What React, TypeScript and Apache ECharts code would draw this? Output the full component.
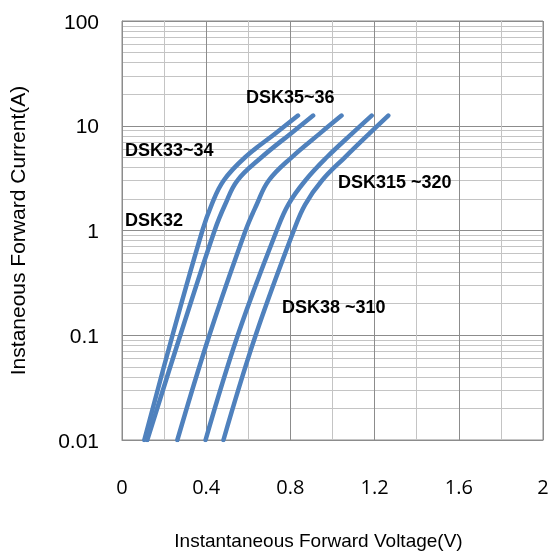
import React, { useEffect, useRef } from "react";
import * as echarts from "echarts";

const xTickLabels = ["0", "0.4", "0.8", "1.2", "1.6", "2"];
const yTickLabels = ["0.01", "0.1", "1", "10", "100"];

const currentA = [0.01, 0.1, 1, 1.77, 3, 5, 8.5, 12.5];
const curve1X = [0.106, 0.24, 0.382, 0.426, 0.483, 0.585, 0.73, 0.836];
const curve2X = [0.12, 0.277, 0.44, 0.49, 0.548, 0.663, 0.804, 0.908];
const curve3X = [0.263, 0.415, 0.587, 0.64, 0.697, 0.806, 0.942, 1.043];
const curve4X = [0.397, 0.55, 0.735, 0.79, 0.871, 0.973, 1.095, 1.186];
const curve5X = [0.482, 0.635, 0.816, 0.87, 0.95, 1.059, 1.177, 1.265];

const curveLabels = ["DSK35~36", "DSK33~34", "DSK315 ~320", "DSK32", "DSK38 ~310"];

const LINE_COLOR = "#4F81BD";
const MAJOR = "#8c8c8c";
const MINOR = "#c4c4c4";

export default function App() {
  const ref = useRef<HTMLDivElement>(null);
  useEffect(() => {
    if (!ref.current) return;
    const chart = echarts.init(ref.current, null, { renderer: "svg" });
    const curves = [curve1X, curve2X, curve3X, curve4X, curve5X];
    const labelPos = [
      [246, 98],
      [125, 151],
      [338, 183],
      [125, 221],
      [282, 308],
    ];
    chart.setOption({
      animation: false,
      grid: {
        left: 122,
        right: 6,
        top: 21,
        bottom: 112,
        show: true,
        borderColor: MAJOR,
        borderWidth: 1,
        containLabel: false,
        outerBoundsMode: "none",
      },
      xAxis: {
        type: "value",
        min: 0,
        max: 2,
        interval: 0.4,
        name: "Instantaneous Forward Voltage(V)",
        nameLocation: "middle",
        nameGap: 91,
        nameTextStyle: {
          fontFamily: "'Liberation Sans', Arial, sans-serif",
          fontSize: 19,
          color: "#000",
          padding: [0, 28, 0, 0],
        },
        axisLine: { show: true, lineStyle: { color: MAJOR } },
        axisTick: { show: false },
        axisLabel: {
          margin: 36,
          fontSize: 20,
          color: "#000",
          fontFamily: "'Open Sans', sans-serif",
          formatter: (v: number) => xTickLabels[Math.round(v / 0.4)] ?? "",
        },
        splitLine: { show: true, lineStyle: { color: MAJOR, width: 1 } },
        minorTick: { show: false, splitNumber: 2 },
        minorSplitLine: { show: true, lineStyle: { color: MINOR, width: 1 } },
      },
      yAxis: {
        type: "log",
        logBase: 10,
        min: 0.01,
        max: 100,
        name: "Instaneous Forward Current(A)",
        nameLocation: "middle",
        nameGap: 94,
        nameTextStyle: {
          fontFamily: "'Liberation Sans', Arial, sans-serif",
          fontSize: 21,
          color: "#000",
        },
        axisLine: { show: true, lineStyle: { color: MAJOR } },
        axisTick: { show: false },
        axisLabel: {
          margin: 23,
          fontSize: 21,
          color: "#000",
          fontFamily: "'Liberation Sans', Arial, sans-serif",
          formatter: (v: number) => yTickLabels[Math.round(Math.log10(v)) + 2] ?? "",
        },
        splitLine: { show: true, lineStyle: { color: MAJOR, width: 1 } },
        minorTick: { show: false, splitNumber: 9 },
        minorSplitLine: { show: true, lineStyle: { color: MINOR, width: 1 } },
      },
      series: curves.map((xs, k) => ({
        type: "line",
        name: "c" + k,
        data: xs.map((x, i) => [x, currentA[i]]),
        smooth: 0.4,
        showSymbol: false,
        symbol: "none",
        z: 5,
        lineStyle: { color: LINE_COLOR, width: 4.5, cap: "round", join: "round" },
      })),
      graphic: curveLabels.map((t, i) => ({
        type: "text",
        left: labelPos[i][0],
        top: labelPos[i][1] - 10,
        z: 10,
        style: {
          text: t,
          fill: "#000",
          font: "bold 18px 'Liberation Sans', Arial, sans-serif",
        },
      })),
    });
    return () => chart.dispose();
  }, []);
  return (
    <div
      ref={ref}
      style={{ position: "fixed", left: 0, top: 0, width: 549, height: 552 }}
    />
  );
}
